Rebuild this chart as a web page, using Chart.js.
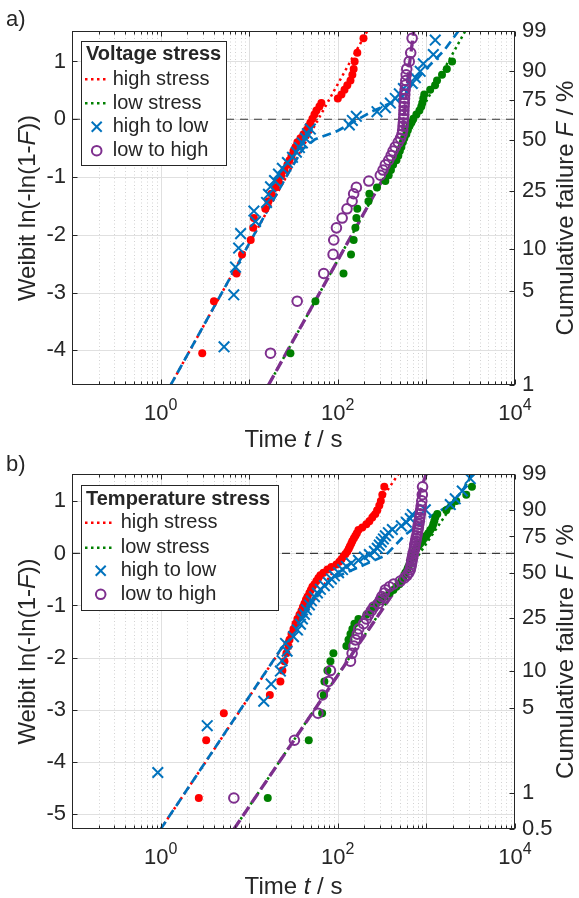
<!DOCTYPE html>
<html>
<head>
<meta charset="utf-8">
<title>Weibull plots - step stress</title>
<script src="https://cdn.jsdelivr.net/npm/chart.js@4.4.1/dist/chart.umd.min.js"></script>
<style>
  body { margin: 0; background: #fff; }
  #wrap { position: relative; width: 579px; height: 898px; }
  #wrap canvas { position: absolute; left: 0; top: 0; }
</style>
</head>
<body>
<div id="wrap">
  <canvas id="chartA" width="579" height="898"></canvas>
  <canvas id="chartB" width="579" height="898"></canvas>
</div>
<script>
const FONT = "'Liberation Sans', Arial, Helvetica, sans-serif";
const INK = '#262626';
const RED = '#ff0000', GREEN = '#008000', BLUE = '#0072bd', PURPLE = '#7e2f8e';

// axis ticks
const decades = [0.1, 1, 10, 100, 1000, 10000];
const xLabelAt = [1, 100, 10000];
const xLabelExp = ['0', '2', '4'];
const leftTicksA = [-4, -3, -2, -1, 0, 1];
const leftTicksB = [-5, -4, -3, -2, -1, 0, 1];
const pctTicksA = [1, 5, 10, 25, 50, 75, 90, 99];
const pctTicksB = [0.5, 1, 5, 10, 25, 50, 75, 90, 99];

// dashed 63.2 % line
const refT = [0.1, 10000];
const refW = [0, 0];

// ---- a) voltage stress : time (s) / weibit ----
const aHighT = [2.95, 4.0, 7.2, 8.3, 10.4, 11.1, 11.3, 15.2, 16.5, 17.8, 19.8, 21.4, 23.1, 25, 27, 28.5, 30, 31.6, 33.3, 35,
  37.9, 41, 44.3, 46.6, 49, 51.7, 54.5, 57.4, 62, 65.3, 100, 110, 119, 128, 139, 146, 151, 155, 166, 195];
const aHighW = [-4.05, -3.15, -2.67, -2.34, -2.09, -1.88, -1.71, -1.55, -1.42, -1.29, -1.18, -1.07, -0.97, -0.88, -0.79, -0.71, -0.63, -0.55, -0.48, -0.40,
  -0.33, -0.26, -0.19, -0.12, -0.06, 0.01, 0.08, 0.15, 0.22, 0.28, 0.36, 0.43, 0.51, 0.59, 0.67, 0.77, 0.87, 1.00, 1.15, 1.40];
const aLowT = [29.2, 55.9, 116, 141, 151, 158, 162, 166, 222, 227, 277, 344, 375, 398, 421, 458, 482, 501, 522, 542,
  563, 593, 617, 642, 676, 712, 771, 834, 876, 899, 922, 946, 1103, 1253, 1318, 1500, 1700, 1950];
const aLowW = [-4.05, -3.15, -2.67, -2.34, -2.09, -1.88, -1.71, -1.55, -1.42, -1.29, -1.18, -1.07, -0.97, -0.88, -0.79, -0.71, -0.63, -0.55, -0.48, -0.40,
  -0.33, -0.26, -0.19, -0.12, -0.06, 0.01, 0.08, 0.15, 0.22, 0.28, 0.36, 0.43, 0.51, 0.59, 0.67, 0.77, 0.87, 1.00];
const aH2LT = [5.2, 6.7, 7.0, 7.6, 8.0, 11.8, 11.3, 15.7, 16.5, 17.4, 19.3, 21.4, 23.7, 27, 30.8, 34.1, 36.9, 39.8, 43.1, 45.4,
  49, 135, 146, 162, 277, 344, 392, 446, 495, 550, 693, 750, 851, 923, 1197, 1259];
const aH2LW = [-3.94, -3.04, -2.56, -2.23, -1.98, -1.77, -1.59, -1.44, -1.30, -1.17, -1.06, -0.95, -0.85, -0.75, -0.66, -0.57, -0.49, -0.41, -0.33, -0.25,
  -0.17, -0.10, -0.02, 0.05, 0.13, 0.20, 0.28, 0.36, 0.44, 0.53, 0.62, 0.72, 0.83, 0.96, 1.12, 1.37];
const aL2HT = [17.4, 34.8, 69.4, 88.5, 90, 96.5, 112, 127, 145, 151, 162, 224, 302, 324, 344, 375, 400, 420, 445, 480,
  510, 530, 540, 545, 550, 553, 556, 558, 560, 563, 566, 570, 575, 580, 585, 592, 600, 640, 665, 690];
const aL2HW = [-4.05, -3.15, -2.67, -2.34, -2.09, -1.88, -1.71, -1.55, -1.42, -1.29, -1.18, -1.07, -0.97, -0.88, -0.79, -0.71, -0.63, -0.55, -0.48, -0.40,
  -0.33, -0.26, -0.19, -0.12, -0.06, 0.01, 0.08, 0.15, 0.22, 0.28, 0.36, 0.43, 0.51, 0.59, 0.67, 0.77, 0.87, 1.00, 1.15, 1.40];
// fitted lines (a)
const aHighFitT = [1.3, 215];
const aHighFitW = [-4.6, 1.527];
const aLowFitT = [16.5, 2750];
const aLowFitW = [-4.6, 1.527];
const aH2LFitT = [1.3, 25, 40, 55, 100, 240, 500, 900, 1600, 2300];
const aH2LFitW = [-4.6, -1.05, -0.52, -0.35, -0.2, 0.13, 0.35, 0.8, 1.2, 1.527];
const aL2HFitT = [16.5, 420, 520, 560, 600, 650, 720];
const aL2HFitW = [-4.6, -0.72, -0.4, 0.0, 0.5, 1.0, 1.527];

// ---- b) temperature stress : time (s) / weibit ----
const bHighT = [2.7, 3.27, 5.17, 17.1, 22.5, 23.7, 25.0, 26.3, 27.7, 28.5, 30.0, 31.6, 33.3, 35.0, 36.9, 38.9, 40.4, 42.0, 43.7, 45.4,
  47.8, 49.7, 51.7, 54.5, 57.4, 60.4, 63.6, 68.8, 76.4, 84.7, 96.4, 104, 110, 116, 122, 128, 133, 137, 142, 146,
  152, 158, 164, 171, 189, 210, 227, 245, 265, 279, 294, 306, 318, 335];
const bHighW = [-4.70, -3.59, -3.07, -2.72, -2.46, -2.25, -2.07, -1.92, -1.78, -1.66, -1.55, -1.45, -1.35, -1.26, -1.18, -1.10, -1.03, -0.96, -0.89, -0.83,
  -0.76, -0.70, -0.64, -0.59, -0.53, -0.47, -0.42, -0.37, -0.31, -0.26, -0.21, -0.16, -0.11, -0.06, -0.01, 0.04, 0.09, 0.14, 0.19, 0.24,
  0.29, 0.34, 0.39, 0.45, 0.50, 0.56, 0.62, 0.69, 0.76, 0.83, 0.92, 1.01, 1.13, 1.28];
const bLowT = [16.2, 47.0, 66.5, 69.4, 70.6, 76.4, 82.6, 89.2, 125, 132, 139, 146, 154, 171, 210, 233, 252, 272, 294, 335,
  382, 424, 458, 495, 521, 549, 564, 578, 609, 625, 642, 658, 667, 676, 693, 731, 770, 811, 854, 899,
  946, 997, 1050, 1107, 1165, 1196, 1227, 1260, 1327, 1677, 1909, 2173, 2818, 3266];
const bLowW = [-4.70, -3.59, -3.07, -2.72, -2.46, -2.25, -2.07, -1.92, -1.78, -1.66, -1.55, -1.45, -1.35, -1.26, -1.18, -1.10, -1.03, -0.96, -0.89, -0.83,
  -0.76, -0.70, -0.64, -0.59, -0.53, -0.47, -0.42, -0.37, -0.31, -0.26, -0.21, -0.16, -0.11, -0.06, -0.01, 0.04, 0.09, 0.14, 0.19, 0.24,
  0.29, 0.34, 0.39, 0.45, 0.50, 0.56, 0.62, 0.69, 0.76, 0.83, 0.92, 1.01, 1.13, 1.28];
const bH2LT = [0.93, 3.36, 14.6, 17.7, 22.5, 23.5, 26.8, 25.7, 31.6, 35.0, 37.9, 39.9, 42.0, 44.3, 47.8, 50.4, 54.5, 58.9, 63.6, 70.6,
  78.3, 84.7, 91.6, 102, 113, 125, 142, 171, 200, 227, 259, 279, 294, 310, 327, 344, 372, 413, 521, 593,
  658, 693, 972, 1860, 2118, 2541, 3126];
const bH2LW = [-4.21, -3.31, -2.84, -2.51, -2.26, -2.06, -1.88, -1.73, -1.60, -1.47, -1.36, -1.26, -1.17, -1.08, -0.99, -0.91, -0.83, -0.76, -0.69, -0.62,
  -0.56, -0.49, -0.43, -0.37, -0.31, -0.25, -0.19, -0.13, -0.07, -0.02, 0.04, 0.10, 0.16, 0.22, 0.28, 0.34, 0.40, 0.46, 0.53, 0.60,
  0.67, 0.75, 0.84, 0.94, 1.05, 1.20, 1.44];
const bL2HT = [6.71, 32.4, 59.7, 67.0, 78.3, 82.6, 139, 145, 152, 158, 166, 172, 195, 210, 222, 239, 254, 288, 302, 314,
  335, 344, 382, 426, 508, 564, 605, 633, 658, 667, 676, 685, 693, 703, 712, 721, 731, 740, 750, 760,
  770, 780, 790, 800, 811, 821, 832, 843, 854, 865, 876, 887, 899, 905];
const bL2HW = [-4.70, -3.59, -3.07, -2.72, -2.46, -2.25, -2.07, -1.92, -1.78, -1.66, -1.55, -1.45, -1.35, -1.26, -1.18, -1.10, -1.03, -0.96, -0.89, -0.83,
  -0.76, -0.70, -0.64, -0.59, -0.53, -0.47, -0.42, -0.37, -0.31, -0.26, -0.21, -0.16, -0.11, -0.06, -0.01, 0.04, 0.09, 0.14, 0.19, 0.24,
  0.29, 0.34, 0.39, 0.45, 0.50, 0.56, 0.62, 0.69, 0.76, 0.83, 0.92, 1.01, 1.13, 1.28];
// fitted lines (b)
const bHighFitT = [1.0, 486];
const bHighFitW = [-5.3, 1.535];
const bLowFitT = [6.71, 3400];
const bLowFitW = [-5.3, 1.535];
const bH2LFitT = [1.0, 49, 82.5, 180, 344, 578, 972, 1860, 2607, 3290];
const bH2LFitW = [-5.3, -0.99, -0.50, -0.25, -0.04, 0.36, 0.65, 0.94, 1.23, 1.535];
const bL2HFitT = [6.71, 500, 560, 620, 690, 760, 850, 1000];
const bL2HFitW = [-5.3, -0.58, -0.40, -0.10, 0.30, 0.75, 1.20, 1.535];

// weibit of a cumulative failure in %
function weibit(p) { return Math.log(-Math.log(1 - p / 100)); }
function pts(t, w) { return t.map((v, i) => ({ x: v, y: w[i] })); }

const minorX = [];
decades.slice(0, -1).forEach(d => { for (let k = 2; k <= 9; k++) minorX.push(d * k); });

function line(ctx, x0, y0, x1, y1) {
  ctx.beginPath(); ctx.moveTo(x0, y0); ctx.lineTo(x1, y1); ctx.stroke();
}

// text with italic pieces, parts = [[text, italic], ...]
function richWidth(ctx, parts, size) {
  let w = 0;
  parts.forEach(([s, it]) => { ctx.font = (it ? 'italic ' : '') + size + 'px ' + FONT; w += ctx.measureText(s).width; });
  return w;
}
function drawRich(ctx, parts, size, x, y) {
  parts.forEach(([s, it]) => {
    ctx.font = (it ? 'italic ' : '') + size + 'px ' + FONT;
    ctx.fillText(s, x, y);
    x += ctx.measureText(s).width;
  });
}

const legendItems = [
  { label: 'high stress', kind: 'dots', color: RED },
  { label: 'low stress', kind: 'dots', color: GREEN },
  { label: 'high to low', kind: 'cross', color: BLUE },
  { label: 'low to high', kind: 'circle', color: PURPLE }
];

function framePlugin(p) {
  return {
    id: 'frame_' + p.id,
    beforeDatasetsDraw(chart) {
      const { ctx, chartArea: a } = chart;
      const x = chart.scales.x, y = chart.scales.y;
      ctx.save();
      ctx.beginPath(); ctx.rect(a.left, a.top, a.right - a.left, a.bottom - a.top); ctx.clip();
      ctx.lineWidth = 1;
      ctx.strokeStyle = '#d2d2d2'; ctx.setLineDash([1, 2.5]);
      minorX.forEach(v => { const px = Math.round(x.getPixelForValue(v)) + 0.5; line(ctx, px, a.top, px, a.bottom); });
      ctx.setLineDash([]); ctx.strokeStyle = '#e0e0e0';
      decades.forEach(v => { const px = Math.round(x.getPixelForValue(v)) + 0.5; line(ctx, px, a.top, px, a.bottom); });
      p.leftTicks.forEach(v => { const py = Math.round(y.getPixelForValue(v)) + 0.5; line(ctx, a.left, py, a.right, py); });
      ctx.restore();
    },
    afterDatasetsDraw(chart) {
      const { ctx, chartArea: a } = chart;
      const x = chart.scales.x, y = chart.scales.y;
      const L = Math.round(a.left) + 0.5, R = Math.round(a.right) - 0.5;
      const T = Math.round(a.top) + 0.5, B = Math.round(a.bottom) - 0.5;
      ctx.save();
      ctx.strokeStyle = INK; ctx.lineWidth = 1;
      ctx.strokeRect(L, T, R - L, B - T);
      // inward ticks
      minorX.forEach(v => {
        const px = Math.round(x.getPixelForValue(v)) + 0.5;
        line(ctx, px, T, px, T + 3); line(ctx, px, B, px, B - 3);
      });
      decades.forEach(v => {
        const px = Math.round(x.getPixelForValue(v)) + 0.5;
        line(ctx, px, T, px, T + 5); line(ctx, px, B, px, B - 5);
      });
      p.leftTicks.forEach(v => { const py = Math.round(y.getPixelForValue(v)) + 0.5; line(ctx, L, py, L + 5, py); });
      p.pct.forEach(v => { const py = Math.round(y.getPixelForValue(weibit(v))) + 0.5; line(ctx, R, py, R - 5, py); });
      ctx.restore();
    },
    afterDraw(chart) {
      const { ctx, chartArea: a } = chart;
      const x = chart.scales.x;
      const lg = p.legend;
      ctx.save();
      // legend box
      ctx.fillStyle = '#fff'; ctx.fillRect(lg.x, lg.y, lg.w, lg.h);
      ctx.strokeStyle = INK; ctx.lineWidth = 1; ctx.strokeRect(lg.x + 0.5, lg.y + 0.5, lg.w - 1, lg.h - 1);
      ctx.fillStyle = INK; ctx.textBaseline = 'middle'; ctx.textAlign = 'left';
      ctx.font = 'bold 20px ' + FONT;
      ctx.fillText(lg.title, lg.x + 5, lg.titleY);
      legendItems.forEach((it, i) => {
        const cy = lg.rows[i];
        ctx.strokeStyle = it.color;
        if (it.kind === 'dots') {
          ctx.lineWidth = 2.5; ctx.setLineDash([2.5, 3.5]);
          line(ctx, lg.lineX0, cy, lg.lineX1, cy);
          ctx.setLineDash([]);
        } else if (it.kind === 'cross') {
          ctx.lineWidth = 2;
          line(ctx, lg.markX - 5, cy - 5, lg.markX + 5, cy + 5);
          line(ctx, lg.markX - 5, cy + 5, lg.markX + 5, cy - 5);
        } else {
          ctx.lineWidth = 2;
          ctx.beginPath(); ctx.arc(lg.markX, cy, 4.8, 0, Math.PI * 2); ctx.stroke();
        }
        ctx.fillStyle = INK; ctx.font = '20px ' + FONT;
        ctx.fillText(it.label, lg.textX, cy);
      });
      // panel letter
      ctx.textBaseline = 'alphabetic';
      ctx.font = '22px ' + FONT;
      ctx.fillText(p.letter, 6, p.letterBase);
      // x tick labels 10^n
      xLabelAt.forEach((v, i) => {
        const px = x.getPixelForValue(v);
        ctx.font = '22px ' + FONT; const w1 = ctx.measureText('10').width;
        ctx.font = '16px ' + FONT; const w2 = ctx.measureText(xLabelExp[i]).width;
        const x0 = px - (w1 + w2) / 2;
        ctx.font = '22px ' + FONT; ctx.fillText('10', x0, a.bottom + 35);
        ctx.font = '16px ' + FONT; ctx.fillText(xLabelExp[i], x0 + w1, a.bottom + 25);
      });
      // axis titles
      const xt = [['Time ', false], ['t', true], [' / s', false]];
      drawRich(ctx, xt, 24, (a.left + a.right) / 2 - richWidth(ctx, xt, 24) / 2, a.bottom + p.xTitleOff);
      const yc = (a.top + a.bottom) / 2;
      const yt = [['Weibit ln(-ln(1-', false], ['F', true], ['))', false]];
      ctx.save(); ctx.translate(35, yc); ctx.rotate(-Math.PI / 2);
      drawRich(ctx, yt, 24, -richWidth(ctx, yt, 24) / 2, 0);
      ctx.restore();
      const rt = [['Cumulative failure ', false], ['F', true], [' / %', false]];
      ctx.save(); ctx.translate(573, yc); ctx.rotate(-Math.PI / 2);
      drawRich(ctx, rt, 24, -richWidth(ctx, rt, 24) / 2, 0);
      ctx.restore();
      ctx.restore();
    }
  };
}

function buildChart(p) {
  const s = p.series;
  const fitLine = (t, w, color, width, dash, order) => ({
    data: pts(t, w), showLine: true, borderColor: color, borderWidth: width, borderDash: dash,
    pointRadius: 0, fill: false, tension: 0, order: order, clip: 0
  });
  const datasets = [
    Object.assign(fitLine(refT, refW, '#3a3a3a', 1.2, [8, 6], 10), { label: 'ref' }),
    Object.assign(fitLine(s.highFit[0], s.highFit[1], RED, 2.5, [2.5, 3.5], 9), { label: 'high fit' }),
    Object.assign(fitLine(s.lowFit[0], s.lowFit[1], GREEN, 2.5, [2.5, 3.5], 9), { label: 'low fit' }),
    Object.assign(fitLine(s.h2lFit[0], s.h2lFit[1], BLUE, 2.7, [9, 5], 8), { label: 'h2l fit' }),
    Object.assign(fitLine(s.l2hFit[0], s.l2hFit[1], PURPLE, 3.3, [11, 5], 8), { label: 'l2h fit' }),
    { label: 'high stress', data: pts(s.high[0], s.high[1]), pointStyle: 'circle', pointRadius: 4,
      pointBackgroundColor: RED, pointBorderColor: RED, pointBorderWidth: 0, order: 4 },
    { label: 'low stress', data: pts(s.low[0], s.low[1]), pointStyle: 'circle', pointRadius: 4,
      pointBackgroundColor: GREEN, pointBorderColor: GREEN, pointBorderWidth: 0, order: 3 },
    { label: 'high to low', data: pts(s.h2l[0], s.h2l[1]), pointStyle: 'crossRot', pointRadius: 7.5,
      pointBorderColor: BLUE, pointBackgroundColor: BLUE, pointBorderWidth: 2, order: 2 },
    { label: 'low to high', data: pts(s.l2h[0], s.l2h[1]), pointStyle: 'circle', pointRadius: 4.8,
      pointBorderColor: PURPLE, pointBackgroundColor: 'rgba(0,0,0,0)', pointBorderWidth: 2, order: 1 }
  ];
  const tickFont = { family: FONT, size: 22 };
  return new Chart(document.getElementById(p.id), {
    type: 'scatter',
    data: { datasets },
    options: {
      responsive: false, animation: false, events: [], devicePixelRatio: 1,
      layout: { padding: { top: p.top, left: 0, right: 0, bottom: 0 } },
      plugins: { legend: { display: false }, tooltip: { enabled: false } },
      scales: {
        x: {
          type: 'logarithmic', min: 0.1, max: 10000,
          ticks: { display: false }, grid: { display: false }, border: { display: false },
          afterFit: sc => { sc.height = 898 - p.bottom; }
        },
        y: {
          type: 'linear', position: 'left', min: p.wMin, max: p.wMax,
          grid: { display: false, drawTicks: false }, border: { display: false },
          afterBuildTicks: sc => { sc.ticks = p.leftTicks.map(v => ({ value: v })); },
          ticks: { color: INK, font: tickFont, padding: 6, autoSkip: false, callback: v => String(v) },
          afterFit: sc => { sc.width = 72; }
        },
        yR: {
          type: 'linear', position: 'right', min: p.wMin, max: p.wMax,
          grid: { display: false, drawTicks: false }, border: { display: false },
          afterBuildTicks: sc => { sc.ticks = p.pct.map(v => ({ value: weibit(v) })); },
          ticks: { color: INK, font: tickFont, padding: 7, autoSkip: false, callback: (v, i) => String(p.pct[i]) },
          afterFit: sc => { sc.width = 64; }
        }
      }
    },
    plugins: [framePlugin(p)]
  });
}

buildChart({
  id: 'chartA', letter: 'a)', letterBase: 26, top: 31, bottom: 385,
  wMin: weibit(1), wMax: weibit(99), leftTicks: leftTicksA, pct: pctTicksA, xTitleOff: 62,
  legend: { title: 'Voltage stress', x: 81, y: 41, w: 146, h: 125, titleY: 54,
    rows: [79.3, 103.3, 126.7, 150.7], lineX0: 85, lineX1: 108, markX: 96.7, textX: 112.7 },
  series: {
    high: [aHighT, aHighW], low: [aLowT, aLowW], h2l: [aH2LT, aH2LW], l2h: [aL2HT, aL2HW],
    highFit: [aHighFitT, aHighFitW], lowFit: [aLowFitT, aLowFitW],
    h2lFit: [aH2LFitT, aH2LFitW], l2hFit: [aL2HFitT, aL2HFitW]
  }
});

buildChart({
  id: 'chartB', letter: 'b)', letterBase: 471, top: 474, bottom: 829,
  wMin: weibit(0.5), wMax: weibit(99), leftTicks: leftTicksB, pct: pctTicksB, xTitleOff: 65,
  legend: { title: 'Temperature stress', x: 81, y: 485, w: 198, h: 126, titleY: 499,
    rows: [522.7, 547.7, 570.7, 594.3], lineX0: 85, lineX1: 114, markX: 100.7, textX: 120.7 },
  series: {
    high: [bHighT, bHighW], low: [bLowT, bLowW], h2l: [bH2LT, bH2LW], l2h: [bL2HT, bL2HW],
    highFit: [bHighFitT, bHighFitW], lowFit: [bLowFitT, bLowFitW],
    h2lFit: [bH2LFitT, bH2LFitW], l2hFit: [bL2HFitT, bL2HFitW]
  }
});
</script>
</body>
</html>
